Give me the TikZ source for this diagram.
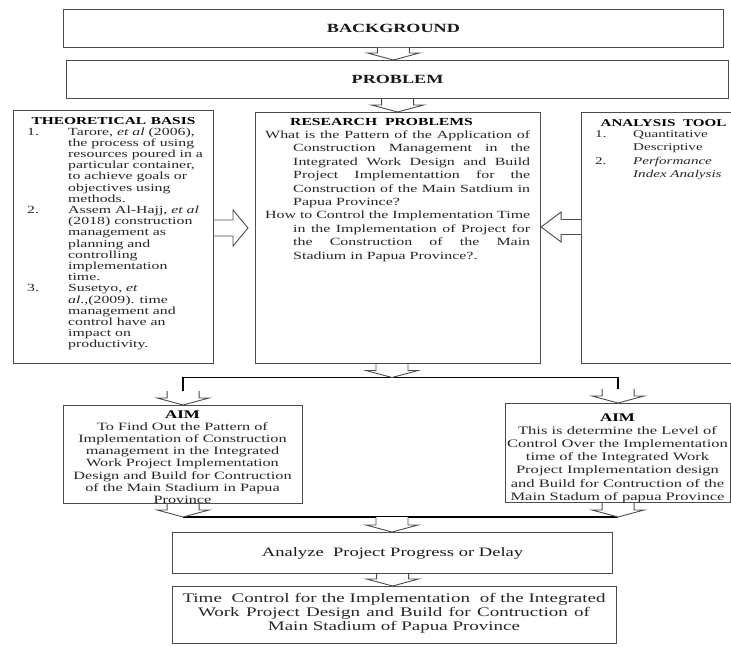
\documentclass[tikz,border=0pt]{standalone}
\usepackage{fontspec}
\setmainfont{Liberation Serif}[FakeStretch=1.45]
\usetikzlibrary{calc}

\newcommand\fsz[2]{\fontsize{#1}{#2}\selectfont}
\newcommand\jline[2]{\makebox[#1][s]{#2}}
\newcommand\num[1]{\makebox[41pt][l]{#1}}

% hollow block arrows: tail point, tip point
\newcommand\blockdown[2]{%
  \draw[blk] let \p1=#1, \p2=#2 in
    (\x1-16pt,\y1) -- (\x1-16pt,\y2+7pt) -- (\x1-26pt,\y2+7pt) -- (\x1,\y2)
    -- (\x1+26pt,\y2+7pt) -- (\x1+16pt,\y2+7pt) -- (\x1+16pt,\y1);}
\newcommand\blockright[2]{%
  \draw[blk] let \p1=#1, \p2=#2 in
    (\x1,\y1+8pt) -- (\x2-15pt,\y1+8pt) -- (\x2-15pt,\y1+18pt) -- (\x2,\y1)
    -- (\x2-15pt,\y1-18pt) -- (\x2-15pt,\y1-8pt) -- (\x1,\y1-8pt);}
\newcommand\blockleft[2]{%
  \draw[blk] let \p1=#1, \p2=#2 in
    (\x1,\y1+7.5pt) -- (\x2+20pt,\y1+7.5pt) -- (\x2+20pt,\y1+15pt) -- (\x2,\y1)
    -- (\x2+20pt,\y1-15pt) -- (\x2+20pt,\y1-7.5pt) -- (\x1,\y1-7.5pt);}

\tikzset{
  box/.style={draw=black!70, line width=1.1pt, fill=white, inner sep=0pt,
    anchor=north west, text=black!90},
  conn/.style={line width=1.6pt, black},
  blk/.style={draw=black!70, line width=0.9pt, fill=white, line join=miter},
  txt/.style={inner sep=0pt, text=black!85},
}

\begin{document}
\begin{tikzpicture}[x=1pt, y=-1pt]
\useasboundingbox (0,0) rectangle (731,646);

% --- boxes ---
\node[box, minimum width=660.3pt, minimum height=37.4pt, font={\fsz{12.5}{15}\bfseries}]
  (bg) at (62.7,9.3) {BACKGROUND};
\node[box, minimum width=662pt, minimum height=38pt, font={\fsz{12.5}{15}\bfseries}]
  (pb) at (66,60) {PROBLEM};
\node[box, minimum width=200.3pt, minimum height=253pt] (th) at (12.7,110) {};
\node[box, minimum width=285pt, minimum height=251pt] (rp) at (255,112) {};
\node[box, minimum width=160pt, minimum height=251pt] (an) at (581,112) {};
\node[box, minimum width=239pt, minimum height=98pt] (aimL) at (63,405) {};
\node[box, minimum width=225pt, minimum height=99pt] (aimR) at (505,403) {};
\node[box, minimum width=440pt, minimum height=41pt, font={\fsz{12.8}{15}}]
  (az) at (172,532) {Analyze\ \ Project Progress or Delay};
\node[box, minimum width=444pt, minimum height=57pt] (tc) at (172,586) {};

% --- theoretical basis ---
\node[txt, anchor=base, font={\fsz{10.6}{12}\bfseries}, text=black] (tht) at (113.5,124)
  {THEORETICAL\hspace{0.45em}BASIS};
\node[txt, anchor=base west, font={\fsz{10.9}{11.2}}] (thl) at (27,135) {%
\begin{tabular}[t]{@{}l@{}l@{}}
\num{1.} & Tarore, \textit{et al} (2006),\\
& the process of using\\
& resources poured in a\\
& particular container,\\
& to achieve goals or\\
& objectives using\\
& methods.\\
\num{2.} & Assem Al-Hajj, \textit{et al}\\
& (2018) construction\\
& management as\\
& planning and\\
& controlling\\
& implementation\\
& time.\\
\num{3.} & Susetyo, \textit{et}\\
& \textit{al}.,(2009). time\\
& management and\\
& control have an\\
& impact on\\
& productivity.
\end{tabular}};

% --- research problems ---
\node[txt, anchor=base west, font={\fsz{10.8}{13}\bfseries}, text=black] (rpt) at (290,125.5)
  {RESEARCH\ \ PROBLEMS};
\node[txt, anchor=base west, font={\fsz{11}{13.4}}] (rpl) at (265,138.5) {%
\begin{tabular}[t]{@{}l@{}}
\jline{265pt}{What is the Pattern of the Application of}\\
\hspace*{28pt}\jline{237pt}{Construction Management in the}\\
\hspace*{28pt}\jline{237pt}{Integrated Work Design and Build}\\
\hspace*{28pt}\jline{237pt}{Project Implementattion for the}\\
\hspace*{28pt}\jline{237pt}{Construction of the Main Satdium in}\\
\hspace*{28pt}Papua Province?\\
\jline{265pt}{How to Control the Implementation Time}\\
\hspace*{28pt}\jline{237pt}{in the Implementation of Project for}\\
\hspace*{28pt}\jline{237pt}{the Construction of the Main}\\
\hspace*{28pt}Stadium in Papua Province?.
\end{tabular}};

% --- analysis tool ---
\node[txt, anchor=base, font={\fsz{10.4}{12}\bfseries}, text=black] (ant) at (663.5,126)
  {ANALYSIS\ \ TOOL};
\node[txt, anchor=base west, font={\fsz{10.4}{13.3}}] (anl) at (595,137.5) {%
\begin{tabular}[t]{@{}l@{}l@{}}
\makebox[38pt][l]{1.} & Quantitative\\
& Descriptive\\
\makebox[38pt][l]{2.} & \textit{Performance}\\
& \textit{Index Analysis}
\end{tabular}};

% --- aims ---
\node[txt, anchor=base, font={\fsz{11.2}{12.1}}] (aLt) at (182.5,418.5) {%
\begin{tabular}[t]{@{}c@{}}
{\fsz{11.7}{12.1}\bfseries\color{black}AIM}\\
To Find Out the Pattern of\\
Implementation of Construction\\
management in the Integrated\\
Work Project Implementation\\
Design and Build for Contruction\\
of the Main Stadium in Papua\\
Province
\end{tabular}};
\node[txt, anchor=base, font={\fsz{11.4}{13.2}}] (aRt) at (617.5,421) {%
\begin{tabular}[t]{@{}c@{}}
{\fsz{11.7}{13.2}\bfseries\color{black}AIM}\\
This is determine the Level of\\
Control Over the Implementation\\
time of the Integrated Work\\
Project Implementation design\\
and Build for Contruction of the\\
Main Stadum of papua Province
\end{tabular}};

% --- time control ---
\node[txt, anchor=base, font={\fsz{13.1}{14.3}}] (tct) at (394,602) {%
\begin{tabular}[t]{@{}c@{}}
\jline{423pt}{Time\ \ Control for the Implementation\ \ of the Integrated}\\
\jline{392pt}{Work Project Design and Build for Contruction of}\\
Main Stadium of Papua Province
\end{tabular}};

% --- connector lines ---
\coordinate (split) at (392,377.5);
\coordinate (join) at (392,517);
\coordinate (aLtop) at ($(aimL.north)+(0,-14)$);
\coordinate (aRtop) at ($(aimR.north)+(0,-14)$);
\draw[conn] (aLtop) |- (split) -| (aRtop);
\draw[conn] (aimL.south |- join) -- (aimR.south |- join);

% --- block arrows ---
\blockdown{(bg.south)}{(bg.south |- pb.north)}
\blockdown{(pb.south)}{(pb.south |- rp.north)}
\blockdown{(split |- rp.south)}{(split)}
\blockdown{(aLtop)}{(aimL.north)}
\blockdown{(aRtop)}{(aimR.north)}
\blockdown{(aimL.south)}{(aimL.south |- join)}
\blockdown{(aimR.south)}{(aimR.south |- join)}
\blockdown{(join)}{(join |- az.north)}
\blockdown{(az.south)}{(az.south |- tc.north)}

\coordinate (lt) at (248,228);
\coordinate (rt) at (560,227);
\blockright{(th.east |- lt)}{(lt)}
\blockleft{(an.west |- rt)}{(rp.east |- rt)}
\end{tikzpicture}
\end{document}
